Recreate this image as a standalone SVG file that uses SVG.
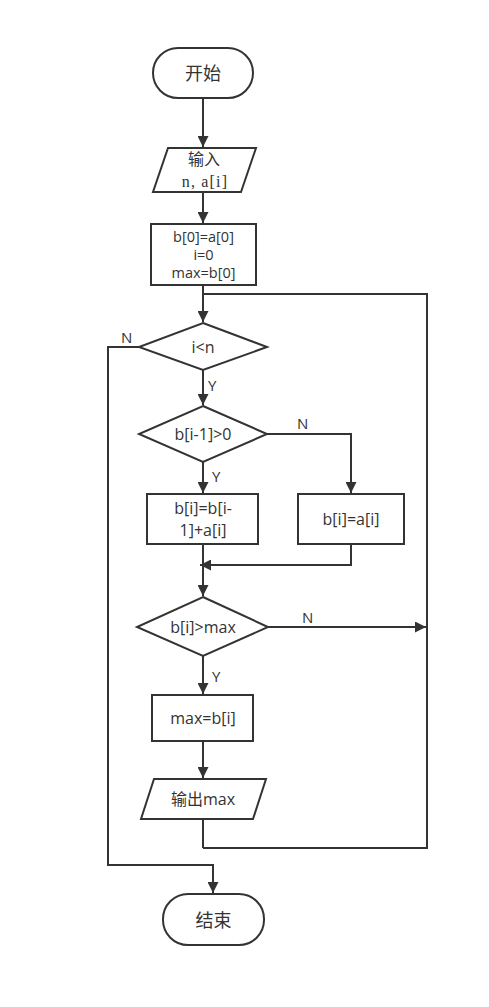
<svg xmlns="http://www.w3.org/2000/svg" width="489" height="1007" viewBox="0 0 489 1007">
<defs>
<marker id="arr" markerUnits="userSpaceOnUse" markerWidth="11" markerHeight="11" refX="11" refY="5.5" orient="auto">
<path d="M0,0 L11,5.5 L0,11 z" fill="#333"/>
</marker>
<style>
.s{fill:#fff;stroke:#333;stroke-width:2}
.c{fill:none;stroke:#333;stroke-width:2}
.t{font-family:"Open Sans","Noto Sans CJK SC",sans-serif;font-size:16px;fill:#333;text-anchor:middle;dominant-baseline:central}
.big{font-size:18px}
.sm{font-size:14.5px}
.sf{font-family:"Liberation Serif","Noto Sans CJK SC",serif;font-size:16px;letter-spacing:1.2px;fill:#333;text-anchor:middle;dominant-baseline:central}
.l{font-family:"Open Sans",sans-serif;font-size:15px;fill:#333;dominant-baseline:central}
</style>
</defs>
<rect width="489" height="1007" fill="#fff"/>
<g id="connectors">
<path class="c" d="M203,98 V147" marker-end="url(#arr)"/>
<path class="c" d="M203,192 V223" marker-end="url(#arr)"/>
<path class="c" d="M203,285 V322" marker-end="url(#arr)"/>
<path class="c" d="M203,848 H427 V294 H203"/>
<path class="c" d="M203,819 V848"/>
<path class="c" d="M139,347 H108 V865 H213 V893" marker-end="url(#arr)"/>
<path class="c" d="M203,370 V405" marker-end="url(#arr)"/>
<path class="c" d="M267,434 H351 V493" marker-end="url(#arr)"/>
<path class="c" d="M203,462 V493" marker-end="url(#arr)"/>
<path class="c" d="M351,544 V565 H200" marker-end="url(#arr)"/>
<path class="c" d="M203,544 V596" marker-end="url(#arr)"/>
<path class="c" d="M268,627 H426" marker-end="url(#arr)"/>
<path class="c" d="M203,656 V694" marker-end="url(#arr)"/>
<path class="c" d="M203,741 V778" marker-end="url(#arr)"/>
<text class="l" x="121" y="337">N</text>
<text class="l" x="208" y="385">Y</text>
<text class="l" x="297" y="423">N</text>
<text class="l" x="212" y="476">Y</text>
<text class="l" x="302" y="617">N</text>
<text class="l" x="212" y="676">Y</text>
</g>
<g id="start">
<rect class="s" x="153" y="48" width="100" height="50" rx="25" ry="25"/>
<text class="t big" x="203" y="73">开始</text>
</g>
<g id="input">
<polygon class="s" points="168,148 256,148 241,192 153,192"/>
<text class="t" x="204" y="159">输入</text>
<text class="sf" x="205" y="181">n, a[i]</text>
</g>
<g id="init">
<rect class="s" x="151" y="224" width="105" height="61"/>
<text class="t sm" x="203.500" y="236">b[0]=a[0]</text>
<text class="t sm" x="203.500" y="254">i=0</text>
<text class="t sm" x="203.500" y="272">max=b[0]</text>
</g>
<g id="cond1">
<polygon class="s" points="203,323 267,347 203,370 139,347"/>
<text class="t" x="203" y="347">i&lt;n</text>
</g>
<g id="cond2">
<polygon class="s" points="203,406 267,434 203,462 139,434"/>
<text class="t" x="203" y="434">b[i-1]&gt;0</text>
</g>
<g id="sum">
<rect class="s" x="147" y="494" width="111" height="50"/>
<text class="t" x="203" y="508">b[i]=b[i-</text>
<text class="t" x="203" y="530">1]+a[i]</text>
</g>
<g id="reset">
<rect class="s" x="298" y="494" width="106" height="50"/>
<text class="t" x="351" y="519">b[i]=a[i]</text>
</g>
<g id="cond3">
<polygon class="s" points="203,597 268,627 203,656 137,627"/>
<text class="t" x="203" y="627">b[i]&gt;max</text>
</g>
<g id="update">
<rect class="s" x="152" y="695" width="101" height="46"/>
<text class="t" x="203" y="718">max=b[i]</text>
</g>
<g id="output">
<polygon class="s" points="154,779 266,779 253,819 141,819"/>
<text class="t" x="203" y="799">输出max</text>
</g>
<g id="end">
<rect class="s" x="163" y="894" width="101" height="51" rx="25" ry="25"/>
<text class="t big" x="213.500" y="920">结束</text>
</g>
</svg>
